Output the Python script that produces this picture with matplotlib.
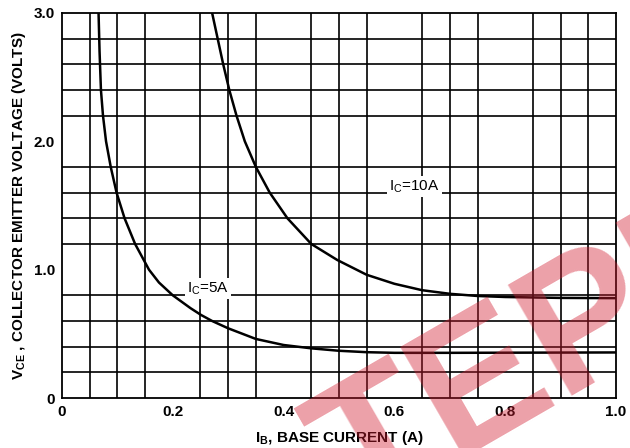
import numpy as np
import matplotlib
matplotlib.use("Agg")
import matplotlib.pyplot as plt

plt.rcParams['font.family'] = ['Liberation Sans', 'DejaVu Sans']

# I_C = 5A curve (base current A, Vce volts)
ib_5a = [0.066, 0.0678, 0.0703, 0.074, 0.0795, 0.088, 0.0985, 0.113, 0.132, 0.157,
         0.175, 0.200, 0.232, 0.251, 0.271, 0.300, 0.350, 0.400, 0.450, 0.500,
         0.550, 0.600, 0.700, 0.800, 1.000]
vce_5a = [3.00, 2.70, 2.40, 2.20, 2.00, 1.80, 1.60, 1.40, 1.20, 1.00,
          0.90, 0.80, 0.70, 0.647, 0.60, 0.543, 0.46, 0.413, 0.387, 0.368,
          0.357, 0.352, 0.352, 0.353, 0.355]

# I_C = 10A curve
ib_10a = [0.271, 0.281, 0.291, 0.302, 0.315, 0.330, 0.350, 0.375, 0.407, 0.450,
          0.497, 0.550, 0.600, 0.650, 0.700, 0.750, 0.800, 0.900, 1.000]
vce_10a = [3.00, 2.80, 2.60, 2.40, 2.20, 2.00, 1.80, 1.60, 1.40, 1.20,
           1.075, 0.96, 0.89, 0.84, 0.812, 0.795, 0.787, 0.780, 0.778]

x_ticks = [0, 0.2, 0.4, 0.6, 0.8, 1.0]
x_ticklabels = ['0', '0.2', '0.4', '0.6', '0.8', '1.0']
y_ticks = [0, 1.0, 2.0, 3.0]
y_ticklabels = ['0', '1.0', '2.0', '3.0']

fig = plt.figure(figsize=(6.3, 4.48), dpi=100)
ax = fig.add_axes([0.0984, 0.1116, 0.8794, 0.8594])

ax.set_xlim(0, 1.0)
ax.set_ylim(0, 3.0)
ax.set_xticks(x_ticks)
ax.set_xticklabels(x_ticklabels, fontsize=11, fontweight='bold')
ax.set_yticks(y_ticks)
ax.set_yticklabels(y_ticklabels, fontsize=11, fontweight='bold')
ax.set_xticks(np.arange(0, 1.0001, 0.05), minor=True)
ax.set_yticks(np.arange(0, 3.0001, 0.2), minor=True)
ax.tick_params(which='both', length=0, pad=5)
ax.grid(which='minor', color='black', linewidth=1.2)
for s in ax.spines.values():
    s.set_linewidth(1.3)

ax.plot(ib_5a, vce_5a, color='black', lw=1.8, zorder=3)
ax.plot(ib_10a, vce_10a, color='black', lw=1.8, zorder=3)

box = dict(facecolor='white', edgecolor='none', pad=1.5)
ax.text(0.225, 0.85, r'I$_\mathregular{C}$=5A', fontsize=11, va='center', bbox=box, zorder=4)
ax.text(0.59, 1.65, r'I$_\mathregular{C}$=10A', fontsize=11, va='center', bbox=box, zorder=4)

ax.set_xlabel(r'I$_\mathregular{B}$, BASE CURRENT (A)', fontsize=11, fontweight='bold', labelpad=7)
ax.set_ylabel(r'V$_\mathregular{CE}$ , COLLECTOR EMITTER VOLTAGE (VOLTS)', fontsize=11,
              fontweight='bold', labelpad=4)

# watermark
fig.text(0.565, -0.16, 'TEPRO', fontsize=134, fontweight='bold', color='#d21e32',
         alpha=0.42, rotation=30, rotation_mode='anchor', ha='left', va='baseline',
         zorder=10)

fig.savefig('out.png', dpi=100)
